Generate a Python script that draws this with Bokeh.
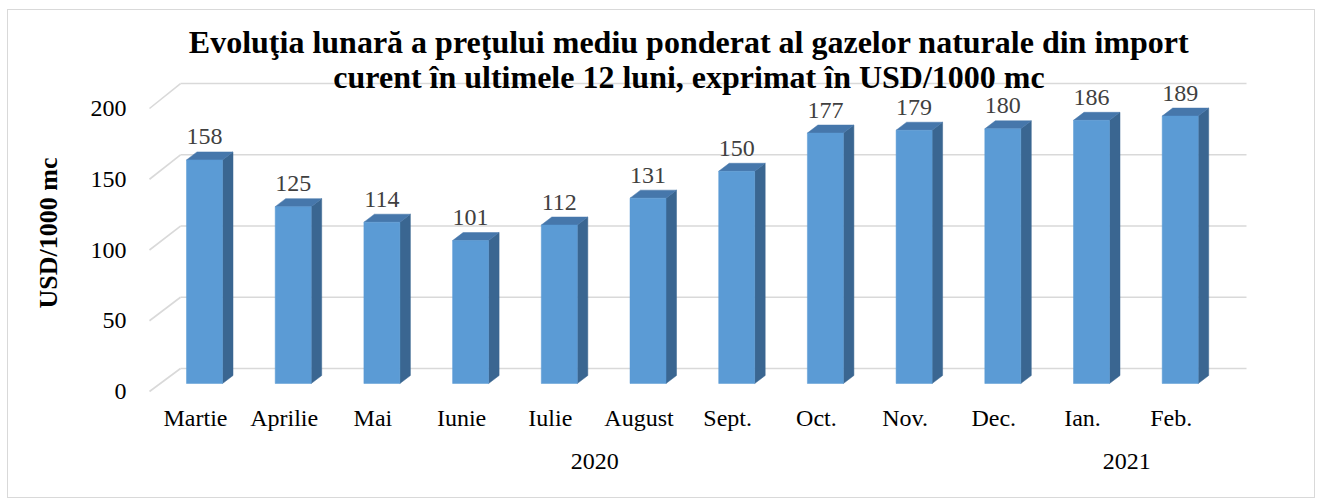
import math
from bokeh.plotting import figure
from bokeh.models import Range1d, LinearAxis, FixedTicker, ColumnDataSource, Title
from bokeh.embed import file_html
from bokeh.resources import INLINE
from bokeh.core.properties import value

# ---------------- data ----------------
months = ["Martie", "Aprilie", "Mai", "Iunie", "Iulie", "August",
          "Sept.", "Oct.", "Nov.", "Dec.", "Ian.", "Feb."]
prices = [158, 125, 114, 101, 112, 131, 150, 177, 179, 180, 186, 189]
years = ["2020", "2021"]
months_per_year = [10, 2]
y_ticks = [0, 50, 100, 150, 200]
title_lines = ["Evoluţia lunară a preţului mediu ponderat al gazelor naturale din import",
               "curent în ultimele 12 luni, exprimat în USD/1000 mc"]
y_title = "USD/1000 mc"

# ---------------- layout (page pixels) ----------------
OFFX, OFFY = 8, 10          # where the figure sits on the page
W, H = 1306, 487
PX_X = 88.7                 # pixels per category
PX_Y = 1.415                # pixels per USD unit
ORIGIN_X = 195.0            # page x of first category label
ORIGIN_Y = 391.0            # page y of value 0 (front plane)
FR_L, FR_R, FR_T, FR_B = 140, 1250, OFFY, 394


def dx(px):
    return px / PX_X


def dy(px):
    return px / PX_Y


def img_x(px):
    return (px - ORIGIN_X) / PX_X


def img_y(py):
    return (ORIGIN_Y - py) / PX_Y


FONT = "Liberation Serif"

p = figure(width=W, height=H, output_backend="svg", toolbar_location=None,
           x_range=Range1d(img_x(FR_L), img_x(FR_R)),
           y_range=Range1d(img_y(FR_B), img_y(FR_T)),
           min_border_left=FR_L - OFFX, min_border_right=OFFX + W - FR_R,
           min_border_top=0, min_border_bottom=OFFY + H - FR_B)
p.margin = (OFFY, 0, 0, OFFX)
p.styles = {"outline": "1px solid #d9d9d9"}
p.outline_line_color = None
p.xgrid.visible = False
p.ygrid.visible = False
p.background_fill_color = "white"
p.border_fill_color = "white"

# ---------------- 3D back-wall gridlines ----------------
n = len(prices)
grid_x0 = img_x(149)
grid_x1 = img_x(180)
grid_x2 = img_x(1246)
back_v = [dy(23) + t * 1.007 for t in y_ticks]
p.segment(x0=[grid_x0] * len(y_ticks), y0=y_ticks, x1=[grid_x1] * len(y_ticks), y1=back_v,
          line_color="#d9d9d9", line_width=1.6)
p.segment(x0=[grid_x1] * len(y_ticks), y0=back_v, x1=[grid_x2] * len(y_ticks), y1=back_v,
          line_color="#d9d9d9", line_width=1.6)

# ---------------- 3D bars ----------------
xs_c = [i + dx(9) for i in range(n)]
half = dx(18)
base = dy(8)
ddx, ddy = dx(10.5), dy(8)
tops = [v + base for v in prices]

top_xs, top_ys, side_xs, side_ys = [], [], [], []
for xc, t in zip(xs_c, tops):
    l, r = xc - half, xc + half
    top_xs.append([l, r, r + ddx, l + ddx])
    top_ys.append([t, t, t + ddy, t + ddy])
    side_xs.append([r, r + ddx, r + ddx, r])
    side_ys.append([base, base + ddy, t + ddy, t])

p.patches(side_xs, side_ys, fill_color="#3a6691", line_color="#3a6691", line_width=0.5)
p.patches(top_xs, top_ys, fill_color="#4677ab", line_color="#4677ab", line_width=0.5)
p.vbar(x=xs_c, width=2 * half, bottom=base, top=tops,
       fill_color="#5b9bd5", line_color="#5b9bd5", line_width=0.5)

# value labels (visual centre ~23px above the front top edge)
src_lab = ColumnDataSource(dict(x=xs_c, y=[t + dy(23) for t in tops],
                                t=[str(v) for v in prices]))
p.text(x="x", y="y", text="t", source=src_lab, text_align="center",
       text_baseline="middle", text_font=value(FONT), text_font_size="24px",
       text_color="#404040")

# ---------------- title ----------------
p.text(x=[img_x(688.5)] * 2, y=[img_y(41.5), img_y(76.5)], text=title_lines,
       text_align="center", text_baseline="middle", text_font=value(FONT),
       text_font_size="32px", text_font_style="bold", text_color="black")

# ---------------- axes ----------------
ya = p.yaxis[0]
ya.ticker = FixedTicker(ticks=y_ticks)
ya.axis_line_color = None
ya.major_tick_line_color = None
ya.minor_tick_line_color = None
ya.major_label_standoff = 8
ya.major_label_text_font = FONT
ya.major_label_text_font_size = "24px"
ya.major_label_text_color = "black"

# y-axis title (side title so that it can sit lower than the frame centre)
yt = Title(text=y_title, align="left", offset=86, vertical_align="top", standoff=46,
           text_font=FONT, text_font_size="26px", text_font_style="bold",
           text_color="black")
p.add_layout(yt, "left")

xa = p.xaxis[0]
xa.ticker = FixedTicker(ticks=list(range(n)))
xa.major_label_overrides = {i: m for i, m in enumerate(months)}
xa.axis_line_color = None
xa.major_tick_line_color = None
xa.minor_tick_line_color = None
xa.major_label_standoff = 4
xa.major_label_text_font = FONT
xa.major_label_text_font_size = "24px"
xa.major_label_text_color = "black"

# year axis: group centres
centres = []
start = 0
for k in months_per_year:
    centres.append(start + (k - 1) / 2)
    start += k
p.extra_x_ranges = {"yr": Range1d(img_x(FR_L) + 0.5, img_x(FR_R) + 0.5)}
yax = LinearAxis(x_range_name="yr",
                 ticker=FixedTicker(ticks=[c + 0.5 for c in centres]),
                 major_label_overrides={int(c + 0.5): yname for c, yname in zip(centres, years)})
yax.axis_line_color = None
yax.major_tick_line_color = None
yax.minor_tick_line_color = None
yax.major_label_standoff = 14
yax.major_label_text_font = FONT
yax.major_label_text_font_size = "24px"
yax.major_label_text_color = "black"
p.add_layout(yax, "below")

open("out.html", "w").write(file_html(p, INLINE))
